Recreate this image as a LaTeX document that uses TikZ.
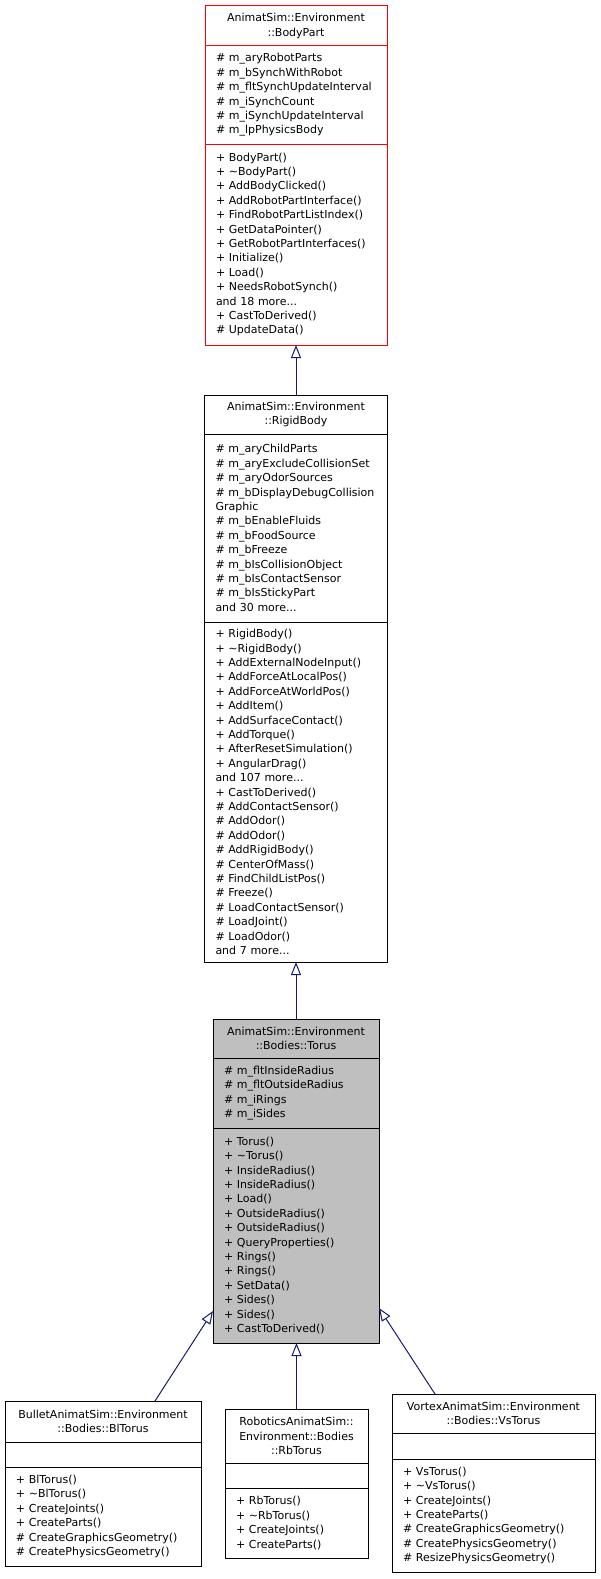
\documentclass[tikz,border=0pt]{standalone}
\usepackage{fontspec}
\setmainfont{DejaVu Sans}
\usepackage{tikz}
\usetikzlibrary{arrows.meta,positioning}
\usepackage{xcolor}
\definecolor{edgeblue}{HTML}{191970}
\definecolor{torusgray}{HTML}{BFBFBF}
\tikzset{
	member/.style={draw=black, fill=white, line width=1pt, outer sep=0pt, inner xsep=11pt, inner ysep=1pt, font=\fontsize{11}{14.4}\selectfont, align=left},
	classname/.style={member, align=center},
	inherit/.style={draw=edgeblue, line width=1pt, -{Triangle[open, length=13pt, width=10pt]}},
}
\begin{document}
\begin{tikzpicture}[x=1pt, y=-1pt]
	\useasboundingbox (0,0) rectangle (601,1579);

	\node[classname, draw=red, anchor=north, minimum width=182pt, text width=160pt, minimum height=40pt] (bpTitle) at (296,6) {AnimatSim::Environment\\::BodyPart};
	\node[member, draw=red, below=0pt of bpTitle, minimum width=182pt, text width=160pt, minimum height=98pt] (bpAttrs) {\# m\_aryRobotParts\\\# m\_bSynchWithRobot\\\# m\_fltSynchUpdateInterval\\\# m\_iSynchCount\\\# m\_iSynchUpdateInterval\\\# m\_lpPhysicsBody};
	\node[member, draw=red, below=0pt of bpAttrs, minimum width=182pt, text width=160pt, minimum height=201pt] (bpMethods) {+ BodyPart()\\+ \textasciitilde BodyPart()\\+ AddBodyClicked()\\+ AddRobotPartInterface()\\+ FindRobotPartListIndex()\\+ GetDataPointer()\\+ GetRobotPartInterfaces()\\+ Initialize()\\+ Load()\\+ NeedsRobotSynch()\\and 18 more...\\+ CastToDerived()\\\# UpdateData()};

	\node[classname, anchor=north, minimum width=183pt, text width=161pt, minimum height=39pt] (rgTitle) at (296,395) {AnimatSim::Environment\\::RigidBody};
	\node[member, below=0pt of rgTitle, minimum width=183pt, text width=161pt, minimum height=188pt] (rgAttrs) {\# m\_aryChildParts\\\# m\_aryExcludeCollisionSet\\\# m\_aryOdorSources\\\# m\_bDisplayDebugCollision\\Graphic\\\# m\_bEnableFluids\\\# m\_bFoodSource\\\# m\_bFreeze\\\# m\_bIsCollisionObject\\\# m\_bIsContactSensor\\\# m\_bIsStickyPart\\and 30 more...};
	\node[member, below=0pt of rgAttrs, minimum width=183pt, text width=161pt, minimum height=340pt] (rgMethods) {+ RigidBody()\\+ \textasciitilde RigidBody()\\+ AddExternalNodeInput()\\+ AddForceAtLocalPos()\\+ AddForceAtWorldPos()\\+ AddItem()\\+ AddSurfaceContact()\\+ AddTorque()\\+ AfterResetSimulation()\\+ AngularDrag()\\and 107 more...\\+ CastToDerived()\\\# AddContactSensor()\\\# AddOdor()\\\# AddOdor()\\\# AddRigidBody()\\\# CenterOfMass()\\\# FindChildListPos()\\\# Freeze()\\\# LoadContactSensor()\\\# LoadJoint()\\\# LoadOdor()\\and 7 more...};

	\node[classname, fill=torusgray, anchor=north, minimum width=166pt, text width=144pt, minimum height=39pt] (trTitle) at (296,1019) {AnimatSim::Environment\\::Bodies::Torus};
	\node[member, fill=torusgray, below=0pt of trTitle, minimum width=166pt, text width=144pt, minimum height=70pt] (trAttrs) {\# m\_fltInsideRadius\\\# m\_fltOutsideRadius\\\# m\_iRings\\\# m\_iSides};
	\node[member, fill=torusgray, below=0pt of trAttrs, minimum width=166pt, text width=144pt, minimum height=215pt] (trMethods) {+ Torus()\\+ \textasciitilde Torus()\\+ InsideRadius()\\+ InsideRadius()\\+ Load()\\+ OutsideRadius()\\+ OutsideRadius()\\+ QueryProperties()\\+ Rings()\\+ Rings()\\+ SetData()\\+ Sides()\\+ Sides()\\+ CastToDerived()};

	\node[classname, anchor=north, minimum width=196pt, text width=174pt, minimum height=41pt] (blTitle) at (103,1401) {BulletAnimatSim::Environment\\::Bodies::BlTorus};
	\node[member, below=0pt of blTitle, minimum width=196pt, text width=174pt, minimum height=25pt] (blAttrs) {};
	\node[member, below=0pt of blAttrs, minimum width=196pt, text width=174pt, minimum height=99pt] (blMethods) {+ BlTorus()\\+ \textasciitilde BlTorus()\\+ CreateJoints()\\+ CreateParts()\\\# CreateGraphicsGeometry()\\\# CreatePhysicsGeometry()};

	\node[classname, anchor=north, minimum width=143pt, text width=121pt, minimum height=54pt] (rbTitle) at (296.5,1409) {RoboticsAnimatSim::\\Environment::Bodies\\::RbTorus};
	\node[member, below=0pt of rbTitle, minimum width=143pt, text width=121pt, minimum height=25pt] (rbAttrs) {};
	\node[member, below=0pt of rbAttrs, minimum width=143pt, text width=121pt, minimum height=70pt] (rbMethods) {+ RbTorus()\\+ \textasciitilde RbTorus()\\+ CreateJoints()\\+ CreateParts()};

	\node[classname, anchor=north, minimum width=203pt, text width=181pt, minimum height=39pt] (vsTitle) at (493.5,1394) {VortexAnimatSim::Environment\\::Bodies::VsTorus};
	\node[member, below=0pt of vsTitle, minimum width=203pt, text width=181pt, minimum height=26pt] (vsAttrs) {};
	\node[member, below=0pt of vsAttrs, minimum width=203pt, text width=181pt, minimum height=113pt] (vsMethods) {+ VsTorus()\\+ \textasciitilde VsTorus()\\+ CreateJoints()\\+ CreateParts()\\\# CreateGraphicsGeometry()\\\# CreatePhysicsGeometry()\\\# ResizePhysicsGeometry()};

	\draw[inherit] (rgTitle.north) -- (bpMethods.south);
	\draw[inherit] (trTitle.north) -- (rgMethods.south);
	\draw[inherit] ([xshift=-46pt]blTitle.north east) -- ([yshift=32pt]trMethods.south west);
	\draw[inherit] (rbTitle.north) -- (rbTitle.north |- trMethods.south);
	\draw[inherit] ([xshift=43pt]vsTitle.north west) -- ([yshift=35pt]trMethods.south east);
\end{tikzpicture}
\end{document}
